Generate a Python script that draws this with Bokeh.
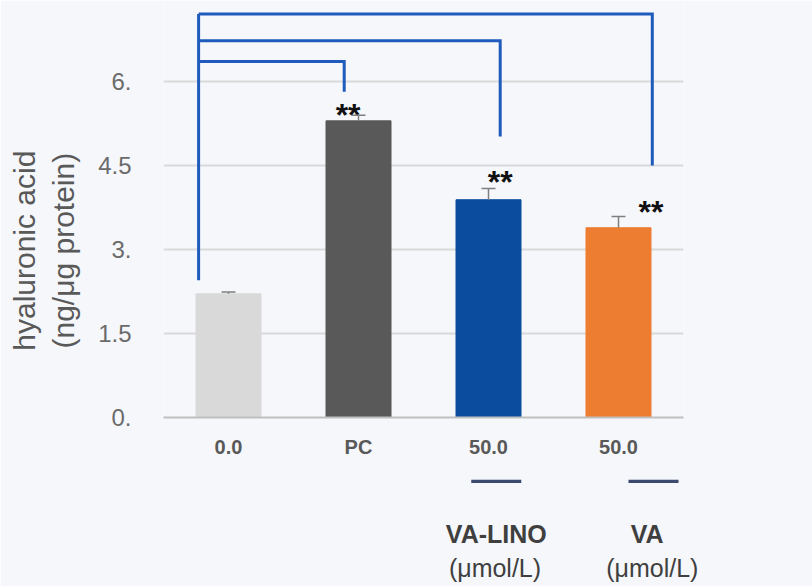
from bokeh.plotting import figure
from bokeh.models import Range1d, FixedTicker, Whisker, TeeHead, LinearAxis, ColumnDataSource
from bokeh.core.properties import value
from bokeh.embed import file_html
from bokeh.resources import INLINE
import numpy as np

# Hyaluronic acid content per treatment group
groups = ["0.0", "PC", "50.0", "50.0"]
ha_mean = [2.21, 5.30, 3.89, 3.39]
ha_err = [0.03, 0.10, 0.20, 0.20]
bar_colors = ["#d9d9d9", "#595959", "#0b4c9e", "#ed7d31"]
y_ticks = [0, 1.5, 3, 4.5, 6]
y_tick_labels = ["0.", "1.5", "3.", "4.5", "6."]
sig_marks = ["", "**", "**", "**"]
sub_titles = ["VA-LINO", "VA"]
unit_text = "(μmol/L)"
y_title = ["hyaluronic acid", "(ng/μg protein)"]

xs = np.arange(len(groups)) + 0.5
BG = "#f5f7fa"
FONT = "Liberation Sans"
NBSP = "\u00a0"

p = figure(width=812, height=586, output_backend="svg", toolbar_location=None,
           x_range=Range1d(0, len(groups)), y_range=Range1d(0, 7.45),
           min_border_left=163, min_border_right=129, min_border_top=0,
           min_border_bottom=169, background_fill_color=BG, border_fill_color=BG,
           outline_line_color=None)

src = ColumnDataSource(dict(x=xs, top=ha_mean, upper=np.array(ha_mean) + np.array(ha_err),
                            color=bar_colors))
p.vbar(x="x", top="top", width=0.5, color="color", source=src)

p.add_layout(Whisker(base="x", lower="top", upper="upper", source=src,
                     line_color="#7f7f7f", line_width=1.5, lower_head=None,
                     upper_head=TeeHead(size=14, line_color="#7f7f7f", line_width=1.5),
                     level="overlay"))

# y axis
p.yaxis.ticker = FixedTicker(ticks=y_ticks)
p.yaxis.major_label_overrides = {float(t): s for t, s in zip(y_ticks, y_tick_labels)}
p.yaxis.axis_line_color = None
p.yaxis.major_tick_line_color = None
p.yaxis.minor_tick_line_color = None
p.yaxis.major_label_standoff = 26
p.yaxis.major_label_text_font = FONT
p.yaxis.major_label_text_font_size = "24px"
p.yaxis.major_label_text_color = "#6b6b6b"
# title lines, padded at the end so the block sits a little lower than the frame centre
p.yaxis.axis_label = "\n".join(t + NBSP * 10 for t in y_title)
p.yaxis.axis_label_standoff = 15
p.yaxis.axis_label_text_font = FONT
p.yaxis.axis_label_text_font_size = "30px"
p.yaxis.axis_label_text_font_style = "normal"
p.yaxis.axis_label_text_color = "#595959"
p.yaxis.axis_label_text_align = "center"

# x axis with group labels
p.xaxis.ticker = FixedTicker(ticks=list(xs))
p.xaxis.major_label_overrides = {float(x): g for x, g in zip(xs, groups)}
p.xaxis.axis_line_color = "#bfbfbf"
p.xaxis.axis_line_width = 2
p.xaxis.major_tick_line_color = None
p.xaxis.minor_tick_line_color = None
p.xaxis.major_label_standoff = 12
p.xaxis.major_label_text_font = FONT
p.xaxis.major_label_text_font_size = "20px"
p.xaxis.major_label_text_font_style = "bold"
p.xaxis.major_label_text_color = "#595959"


def text_axis(ticks, labels, size, style, color, standoff):
    ax = LinearAxis(ticker=FixedTicker(ticks=ticks),
                    major_label_overrides={float(t): s for t, s in zip(ticks, labels)},
                    axis_line_color=None, major_tick_line_color=None,
                    minor_tick_line_color=None, major_label_standoff=standoff,
                    major_label_text_font=FONT, major_label_text_font_size=size,
                    major_label_text_font_style=style, major_label_text_color=color)
    p.add_layout(ax, "below")
    return ax


# compound names under the two 50.0 groups, with a short rule above each
rule_x = [2.56, 3.77]
name_x = [2.56, 3.72]
unit_x = [2.55, 3.76]
text_axis(rule_x, ["\u2014"] * 2, "50px", "normal", "#3b4a6e", -18)
text_axis(name_x, sub_titles, "25px", "bold", "#3f3f3f", 6)
text_axis(unit_x, [unit_text] * 2, "25px", "normal", "#3f3f3f", -3)

p.xgrid.grid_line_color = None
p.ygrid.grid_line_color = "#d9d9d9"
p.ygrid.grid_line_width = 2

# significance brackets from the control bar
BR = "#1f5bbd"
x_left = 0.27
bracket_top = [6.36, 6.73, 7.21]
bracket_x_end = [1.39, 2.59, 3.76]
bracket_y_end = [5.82, 5.02, 4.50]
p.line([x_left, x_left], [2.45, max(bracket_top)], line_color=BR, line_width=3)
for yt, xe, ye in zip(bracket_top, bracket_x_end, bracket_y_end):
    p.line([x_left, xe, xe], [yt, yt, ye], line_color=BR, line_width=3,
           line_join="miter")

# significance stars
star_dx = [0, -0.08, 0.09, 0.25]
star_y = [0, 5.40, 4.21, 3.67]
star_src = ColumnDataSource(dict(x=xs + np.array(star_dx), y=star_y, t=sig_marks))
p.text(x="x", y="y", text="t", source=star_src, text_align="center",
       text_baseline="alphabetic", text_font=value(FONT), text_font_style="bold",
       text_font_size="32px", text_color="#111111")

open("out.html", "w").write(file_html(p, INLINE))
